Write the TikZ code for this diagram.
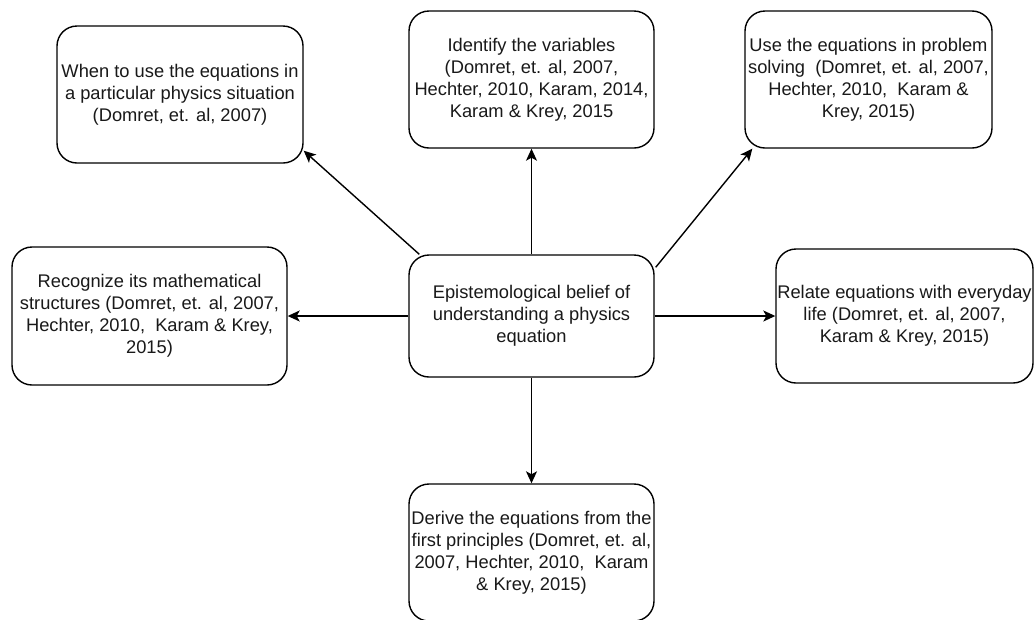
\documentclass[tikz,border=0pt]{standalone}
\usepackage{fontspec}
\setmainfont{Liberation Sans}
\usetikzlibrary{arrows.meta,calc}

\tikzset{
  idea/.style={draw=black, line width=1.4pt, rounded corners=20pt, fill=white,
    align=center, inner sep=0pt, text=black!90,
    font=\fontsize{18.3}{22}\selectfont},
  link/.style={line width=1.4pt, draw=black,
    -{Stealth[length=12pt, width=11pt, inset=3pt]}}
}

\begin{document}
\begin{tikzpicture}[x=1pt, y=-1pt]
  \useasboundingbox (0,0) rectangle (1035,619);

  % central belief
  \node[idea, minimum width=245pt, minimum height=122pt] (c) at (531.5,316)
    {Epistemological belief of\\ understanding a physics\\ equation};

  % surrounding aspects
  \node[idea, minimum width=246pt, minimum height=137pt] (b1) at (180,94.5)
    {When to use the equations in\\ a particular physics situation\\ (Domret, et. al, 2007)};
  \node[idea, minimum width=245pt, minimum height=137pt] (b2) at (531.5,79.5)
    {Identify the variables\\ (Domret, et. al, 2007,\\ Hechter, 2010, Karam, 2014,\\ Karam \& Krey, 2015};
  \node[idea, minimum width=247pt, minimum height=137pt] (b3) at (868.5,79.5)
    {Use the equations in problem\\ solving\ \ (Domret, et. al, 2007,\\ Hechter, 2010,\ \ Karam \&\\ Krey, 2015)};
  \node[idea, minimum width=275pt, minimum height=138pt] (b4) at (149.5,316)
    {Recognize its mathematical\\ structures (Domret, et. al, 2007,\\ Hechter, 2010,\ \ Karam \& Krey,\\ 2015)};
  \node[idea, minimum width=257pt, minimum height=134pt] (b6) at (904.5,316)
    {Relate equations with everyday\\ life (Domret, et. al, 2007,\\ Karam \& Krey, 2015)};
  \node[idea, minimum width=245pt, minimum height=137pt] (b7) at (531.5,552.5)
    {Derive the equations from the\\ first principles (Domret, et. al,\\ 2007, Hechter, 2010,\ \ Karam\\ \& Krey, 2015)};

  % connectors from the centre outwards
  \draw[link] ($(c.north west)+(11,0)$) -- ($(b1.south east)+(0,-13)$);
  \draw[link] (c.north) -- (b2.south);
  \draw[link] ($(c.north east)+(1,13)$) -- ($(b3.south west)+(8,0)$);
  \draw[link] (c.west) -- (b4.east);
  \draw[link] (c.east) -- (b6.west);
  \draw[link] (c.south) -- (b7.north);
\end{tikzpicture}
\end{document}
